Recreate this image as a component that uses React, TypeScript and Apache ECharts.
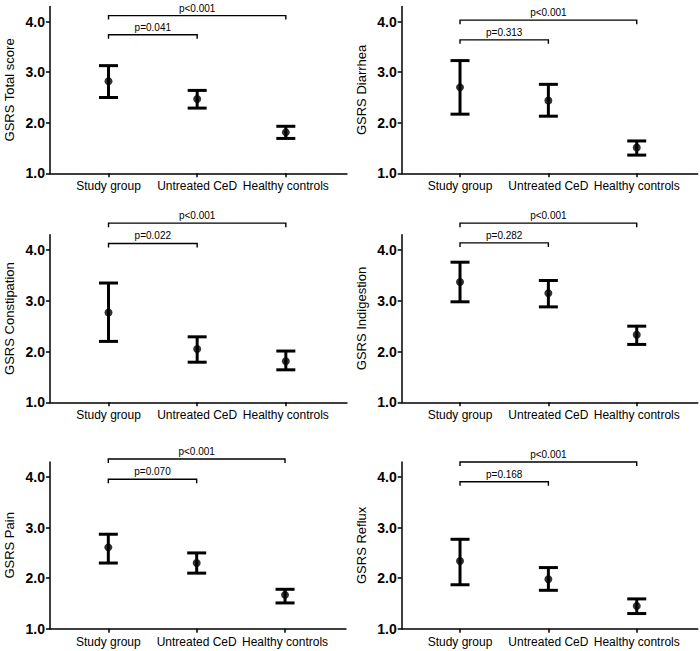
import React, { useEffect, useRef } from "react";
import * as echarts from "echarts";

// ---------------- data ----------------
const categories = ["Study group", "Untreated CeD", "Healthy controls"];
const categoryX = [1, 2, 3];
const yTickValues = [1, 2, 3, 4];
const panelTitles = [
  "GSRS Total score",
  "GSRS Diarrhea",
  "GSRS Constipation",
  "GSRS Indigestion",
  "GSRS Pain",
  "GSRS Reflux",
];

const totalMean = [2.82, 2.47, 1.81];
const totalLow = [2.5, 2.29, 1.69];
const totalHigh = [3.13, 2.64, 1.93];

const diarrheaMean = [2.7, 2.44, 1.51];
const diarrheaLow = [2.17, 2.13, 1.36];
const diarrheaHigh = [3.23, 2.76, 1.64];

const constipationMean = [2.77, 2.05, 1.81];
const constipationLow = [2.2, 1.79, 1.64];
const constipationHigh = [3.35, 2.29, 2.01];

const indigestionMean = [3.37, 3.15, 2.33];
const indigestionLow = [2.98, 2.88, 2.14];
const indigestionHigh = [3.76, 3.4, 2.5];

const painMean = [2.61, 2.3, 1.67];
const painLow = [2.3, 2.1, 1.51];
const painHigh = [2.87, 2.5, 1.78];

const refluxMean = [2.34, 1.98, 1.45];
const refluxLow = [1.87, 1.76, 1.3];
const refluxHigh = [2.77, 2.21, 1.59];

const pShort = ["p=0.041", "p=0.313", "p=0.022", "p=0.282", "p=0.070", "p=0.168"];
const pLong = "p<0.001";
const bracketShortY = [3.74, 3.64, 4.13, 4.14, 3.96, 3.91];
const bracketLongY = [4.12, 4.03, 4.53, 4.53, 4.36, 4.3];

const means = [totalMean, diarrheaMean, constipationMean, indigestionMean, painMean, refluxMean];
const lows = [totalLow, diarrheaLow, constipationLow, indigestionLow, painLow, refluxLow];
const highs = [totalHigh, diarrheaHigh, constipationHigh, indigestionHigh, painHigh, refluxHigh];

// ---------------- layout ----------------
const gridRects = [
  { left: 50, top: 6.5, width: 297, height: 166.8 },
  { left: 401.7, top: 6.5, width: 296, height: 166.8 },
  { left: 50, top: 234.8, width: 297, height: 167.5 },
  { left: 401.7, top: 234.8, width: 296, height: 167.5 },
  { left: 50, top: 462, width: 296, height: 166.7 },
  { left: 401.7, top: 462, width: 296, height: 166.7 },
];
const FONT = '"Liberation Sans", Arial, Helvetica, sans-serif';

function buildOption() {
  const grid: any[] = [];
  const xAxis: any[] = [];
  const yAxis: any[] = [];
  const series: any[] = [];

  panelTitles.forEach((title, i) => {
    grid.push({ ...gridRects[i], containLabel: false });
    xAxis.push({
      type: "value",
      gridIndex: i,
      min: 0.34,
      max: 3.69,
      splitLine: { show: false },
      axisLine: { show: true, onZero: false, lineStyle: { color: "#000", width: 1.5 } },
      axisTick: { show: true, customValues: categoryX, length: 4, lineStyle: { color: "#000", width: 1.5 } },
      axisLabel: {
        customValues: categoryX,
        formatter: (v: number) => categories[Math.round(v) - 1] ?? "",
        color: "#000",
        fontSize: 12,
        fontFamily: FONT,
        margin: 7,
      },
    });
    yAxis.push({
      type: "value",
      gridIndex: i,
      min: 1,
      max: 4.3,
      name: title,
      nameLocation: "middle",
      nameGap: 34,
      nameTextStyle: { color: "#000", fontSize: 13, fontFamily: FONT },
      splitLine: { show: false },
      axisLine: { show: true, onZero: false, lineStyle: { color: "#000", width: 1.5 } },
      axisTick: { show: true, customValues: yTickValues, length: 4, lineStyle: { color: "#000", width: 1.5 } },
      axisLabel: {
        customValues: yTickValues,
        formatter: (v: number) => v.toFixed(1),
        color: "#000",
        fontSize: 14,
        fontWeight: "bold",
        fontFamily: FONT,
        margin: 5,
      },
    });

    // error bars
    series.push({
      type: "custom",
      xAxisIndex: i,
      yAxisIndex: i,
      clip: false,
      data: categoryX.map((x, k) => [x, lows[i][k], highs[i][k]]),
      renderItem: (params: any, api: any) => {
        const lo = api.coord([api.value(0), api.value(1)]);
        const hi = api.coord([api.value(0), api.value(2)]);
        const hw = 9.5;
        const st = { stroke: "#000", lineWidth: 3 };
        return {
          type: "group",
          children: [
            { type: "line", shape: { x1: lo[0], y1: lo[1], x2: hi[0], y2: hi[1] }, style: st },
            { type: "line", shape: { x1: lo[0] - hw, y1: lo[1], x2: lo[0] + hw, y2: lo[1] }, style: st },
            { type: "line", shape: { x1: hi[0] - hw, y1: hi[1], x2: hi[0] + hw, y2: hi[1] }, style: st },
          ],
        };
      },
      z: 2,
    });

    // means
    series.push({
      type: "scatter",
      xAxisIndex: i,
      yAxisIndex: i,
      symbol: "circle",
      symbolSize: 8,
      itemStyle: { color: "#000" },
      data: categoryX.map((x, k) => [x, means[i][k]]),
      z: 3,
    });

    // significance brackets
    const bracketLabels = [pShort[i], pLong];
    series.push({
      type: "custom",
      xAxisIndex: i,
      yAxisIndex: i,
      clip: false,
      data: [
        [categoryX[0], categoryX[1], bracketShortY[i], 0],
        [categoryX[0], categoryX[2], bracketLongY[i], 1],
      ],
      renderItem: (params: any, api: any) => {
        const a = api.coord([api.value(0), api.value(2)]);
        const b = api.coord([api.value(1), api.value(2)]);
        const label = bracketLabels[api.value(3)];
        const d = 4;
        return {
          type: "group",
          children: [
            {
              type: "polyline",
              shape: { points: [[a[0], a[1] + d], [a[0], a[1]], [b[0], b[1]], [b[0], b[1] + d]] },
              style: { stroke: "#000", lineWidth: 1.4, fill: null },
            },
            {
              type: "text",
              x: (a[0] + b[0]) / 2,
              y: a[1] - 2.5,
              style: {
                text: label,
                fill: "#000",
                fontSize: 10,
                fontFamily: FONT,
                align: "center",
                verticalAlign: "bottom",
              },
            },
          ],
        };
      },
      z: 2,
    });
  });

  return {
    animation: false,
    backgroundColor: "#fff",
    grid,
    xAxis,
    yAxis,
    series,
  };
}

export default function App() {
  const ref = useRef<HTMLDivElement>(null);
  useEffect(() => {
    if (!ref.current) return;
    const chart = echarts.init(ref.current, undefined, { renderer: "svg" });
    chart.setOption(buildOption());
    return () => chart.dispose();
  }, []);
  return (
    <div
      ref={ref}
      style={{ position: "fixed", left: 0, top: 0, width: 700, height: 651, background: "#fff" }}
    />
  );
}
